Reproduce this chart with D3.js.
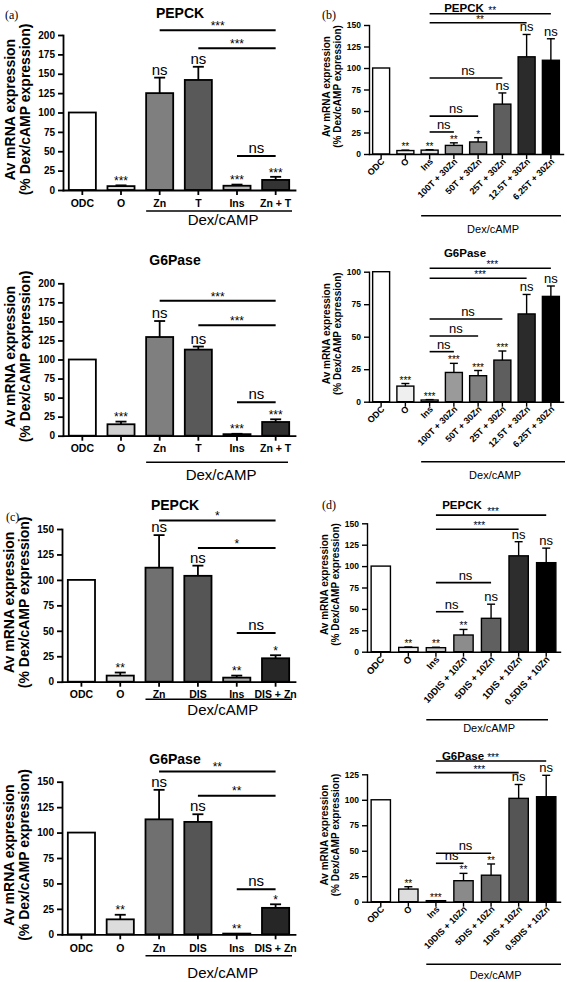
<!DOCTYPE html>
<html><head><meta charset="utf-8">
<script src="https://cdn.jsdelivr.net/npm/d3@7"></script>
<style>body{margin:0;background:#fff}svg{display:block}</style>
</head><body>
<svg id="c" width="567" height="982"></svg>
<script>
// ================= DATA =================
// Panel (a)
const catsA = ["ODC","O","Zn","T","Ins","Zn + T"];
const pepckA = [100, 5, 125, 142, 5.5, 13];
const pepckAErr = [0, 1, 20, 17, 1.5, 4];
const pepckASig = ["", "***", "ns", "ns", "***", "***"];
const pepckABr = [[2,5,"***",206],[3,5,"***",183],[4,5,"ns",44]];
const g6A = [100, 15, 129.5, 113, 2, 18];
const g6AErr = [0, 3.5, 21, 4, 0.5, 3.5];
const g6ASig = ["", "***", "ns", "ns", "***", "***"];
const g6ABr = [[2,5,"***",177],[3,5,"***",145],[4,5,"ns",44]];
// Panel (b)
const catsB = ["ODC","O","Ins","100T + 30Zn","50T + 30Zn","25T + 30Zn","12.5T + 30Zn","6.25T + 30Zn"];
const pepckB = [100, 4, 4.5, 10, 14, 58, 113, 109];
const pepckBErr = [0, 0.5, 0.5, 3, 5, 13, 26, 25];
const pepckBSig = ["", "**", "**", "**", "*", "ns", "ns", "ns"];
const pepckBBr = [[2,7,"**",163],[2,6,"**",152.7],[2,5,"ns",88.4],[2,4,"ns",44],[2,3,"ns",25.6]];
const g6B = [100, 12, 1.3, 22.5, 20, 32, 67.5, 81];
const g6BErr = [0, 2, 0.3, 7, 4, 7, 15, 8];
const g6BSig = ["", "***", "***", "***", "***", "***", "ns", "ns"];
const g6BBr = [[2,7,"***",102.6],[2,6,"***",95],[2,5,"ns",63.6],[2,4,"ns",50.5],[2,3,"ns",38.5]];
// Panel (c)
const catsC = ["ODC","O","Zn","DIS","Ins","DIS + Zn"];
const pepckC = [100, 6, 112, 104, 4, 23];
const pepckCErr = [0, 3, 32, 10, 2, 3];
const pepckCSig = ["", "**", "ns", "ns", "**", "*"];
const pepckCBr = [[2,5,"*",158.4],[3,5,"*",131.3],[4,5,"ns",47.8]];
const g6C = [100, 14.7, 113, 110.5, 0.7, 26];
const g6CErr = [0, 4.5, 29, 7.5, 0, 3.5];
const g6CSig = ["", "**", "ns", "ns", "**", "*"];
const g6CBr = [[2,5,"**",160],[3,5,"**",136.3],[4,5,"ns",44.2]];
// Panel (d)
const catsD = ["ODC","O","Ins","10DIS + 10Zn","5DIS + 10Zn","1DIS + 10Zn","0.5DIS + 10Zn"];
const pepckD = [100, 5, 4.7, 19.5, 39, 112, 104];
const pepckDErr = [0, 0.5, 0.5, 6.5, 16.5, 16.5, 17];
const pepckDSig = ["", "**", "**", "**", "ns", "ns", "ns"];
const pepckDBr = [[2,6,"***",159.6],[2,5,"***",143],[2,4,"ns",80.7],[2,3,"ns",46.7]];
const g6D = [100, 12.4, 1, 20.6, 26, 101.4, 103];
const g6DErr = [0, 2.3, 0, 7.2, 11, 13.6, 21];
const g6DSig = ["", "**", "***", "**", "**", "ns", "ns"];
const g6DBr = [[2,6,"***",138],[2,5,"***",126.6],[2,4,"ns",47.5],[2,3,"ns",37.7]];
// Tick labels
const ticks200 = [0,25,50,75,100,125,150,175,200];
const ticks150 = [0,25,50,75,100,125,150];
const ticks125 = [0,25,50,75,100,125];
const ticks100 = [0,25,50,75,100];

// ================= STYLE =================
const fillsA1 = ["#ffffff","#dcdcdc","#7f7f7f","#595959","#b5b5b5","#333333"];
const fillsA2 = ["#ffffff","#cfcfcf","#7f7f7f","#595959","#b5b5b5","#2e2e2e"];
const fillsB = ["#ffffff","#efefef","#e2e2e2","#9a9a9a","#808080","#5e5e5e","#2b2b2b","#000000"];
const fillsC = ["#ffffff","#dcdcdc","#707070","#555555","#aaaaaa","#262626"];
const fillsD1 = ["#ffffff","#eeeeee","#cccccc","#8c8c8c","#606060","#2d2d2d","#000000"];
const fillsD2 = ["#ffffff","#dddddd","#cccccc","#8a8a8a","#666666","#555555","#000000"];
const SANS = "'Liberation Sans', Arial, sans-serif";
const SERIF = "'Liberation Serif', 'Times New Roman', serif";

const svg = d3.select("#c");

function panel(o){
  const g = svg.append("g");
  const big = o.size === "L";
  const sw = big ? 1.8 : 1.4;
  const y = d3.scaleLinear().domain([0, o.ymax]).range([o.y0, o.y1]);
  const x = d3.scaleBand().domain(o.cats).range([o.x0, o.x1]).paddingInner(0.3).paddingOuter(0.15);
  const cx = i => x(o.cats[i]) + x.bandwidth()/2;
  const tickFs = big ? 10 : 8.5, labFs = o.labFs || (big ? 10.5 : 9), nsFs = big ? 15 : 13, astFs = big ? 12 : 10;

  // bars
  g.selectAll("rect.bar").data(o.vals).join("rect").attr("class","bar")
    .attr("x", (d,i) => x(o.cats[i])).attr("width", x.bandwidth())
    .attr("y", d => y(d)).attr("height", d => o.y0 - y(d))
    .attr("fill", (d,i) => o.fills[i]).attr("stroke", "#000").attr("stroke-width", sw);
  // error bars (upper)
  const cap = big ? 11 : 8;
  o.vals.forEach((v,i) => {
    const e = o.errs[i]; if (!e) return;
    g.append("line").attr("x1", cx(i)).attr("x2", cx(i)).attr("y1", y(v)).attr("y2", y(v+e))
      .attr("stroke","#000").attr("stroke-width", sw);
    g.append("line").attr("x1", cx(i)-cap/2).attr("x2", cx(i)+cap/2).attr("y1", y(v+e)).attr("y2", y(v+e))
      .attr("stroke","#000").attr("stroke-width", sw);
  });
  function sigText(label, xc, top){
    const isAst = label.indexOf("*") >= 0;
    const fs = isAst ? astFs : nsFs;
    const by = isAst ? top - (big ? 4.5 : 3.5) + 0.35*fs : top - 3;
    g.append("text").attr("x", xc).attr("y", by).attr("text-anchor","middle")
      .attr("font-family", SANS).attr("font-size", fs).text(label);
  }
  // significance above bars
  o.sig.forEach((s,i) => { if (s) sigText(s, cx(i), y(o.vals[i] + o.errs[i])); });
  // brackets
  o.br.forEach(b => {
    const ly = y(b[3]);
    g.append("line").attr("x1", cx(b[0])).attr("x2", cx(b[1])).attr("y1", ly).attr("y2", ly)
      .attr("stroke","#000").attr("stroke-width", big ? 2 : 1.6);
    sigText(b[2], (cx(b[0]) + cx(b[1]))/2 + (big ? 0 : 2), ly);
  });

  // y axis
  const ya = d3.axisLeft(y).tickValues(o.ticks).tickSize(5).tickSizeOuter(0).tickPadding(3);
  const yg = g.append("g").attr("transform", `translate(${o.x0},0)`).call(ya);
  // x axis
  const xa = d3.axisBottom(x).tickSize(5).tickSizeOuter(0).tickPadding(3);
  const xg = g.append("g").attr("transform", `translate(0,${o.y0})`).call(xa);
  [yg, xg].forEach(a => {
    a.select(".domain").attr("stroke-width", sw).attr("stroke-linecap","square");
    a.selectAll(".tick line").attr("stroke-width", sw);
    a.selectAll("text").attr("font-family", SANS).attr("font-weight","bold").attr("fill","#000");
  });
  yg.selectAll("text").attr("font-size", tickFs);
  if (o.rotate) {
    xg.selectAll("text").attr("font-size", labFs).attr("text-anchor","end")
      .attr("dy", null).attr("y", null)
      .attr("transform", `translate(4,${o.labOff}) rotate(${o.rotate})`);
  } else {
    xg.selectAll("text").attr("font-size", labFs).attr("dy", null).attr("y", o.labOff);
  }
  // Dex/cAMP grouping
  const lx0 = x(o.cats[o.dexFrom]);
  g.append("line").attr("x1", lx0).attr("x2", o.dexEnd).attr("y1", o.y0 + o.dexLine).attr("y2", o.y0 + o.dexLine)
    .attr("stroke","#000").attr("stroke-width", big ? 1.6 : 1.4);
  g.append("text").attr("x", (lx0 + o.dexEnd)/2 + (big ? 4 : 2)).attr("y", o.y0 + o.dexText)
    .attr("text-anchor","middle").attr("font-family", SANS).attr("font-size", big ? 15 : 11).text("Dex/cAMP");

  // y title
  const tfs = big ? 14 : 10;
  const ym = (o.y0 + o.y1)/2 - 3;
  const tx1 = o.x0 - (big ? 48 : 39), tx2 = o.x0 - (big ? 33 : 28);
  g.append("text").attr("transform", `translate(${tx1},${ym}) rotate(-90)`).attr("text-anchor","middle")
    .attr("font-family", SANS).attr("font-weight","bold").attr("font-size", tfs).text("Av mRNA expression");
  g.append("text").attr("transform", `translate(${tx2},${ym}) rotate(-90)`).attr("text-anchor","middle")
    .attr("font-family", SANS).attr("font-weight","bold").attr("font-size", tfs).text("(% Dex/cAMP expression)");
  // title
  g.append("text").attr("x", o.titleX).attr("y", o.titleY).attr("text-anchor","middle")
    .attr("font-family", SANS).attr("font-weight","bold").attr("font-size", big ? 14 : 11.5).text(o.title);
  if (o.letter) {
    g.append("text").attr("x", o.letter[1]).attr("y", o.letter[2]).attr("font-family", SERIF)
      .attr("font-size", 12).text(o.letter[0]);
  }
}

panel({size:"L", cats:catsA, vals:pepckA, errs:pepckAErr, sig:pepckASig, br:pepckABr, fills:fillsA1,
  ymax:200, ticks:ticks200, y0:190, y1:35, x0:63, x1:295, labOff:17, dexFrom:2, dexEnd:292, dexLine:21, dexText:35,
  title:"PEPCK", titleX:180, titleY:18, letter:["(a)",5,19]});
panel({size:"L", cats:catsA, vals:g6A, errs:g6AErr, sig:g6ASig, br:g6ABr, fills:fillsA2,
  ymax:200, ticks:ticks200, y0:435.7, y1:283.3, x0:63, x1:295, labOff:16.6, dexFrom:2, dexEnd:288, dexLine:26.6, dexText:44.3,
  title:"G6Pase", titleX:175, titleY:265});
panel({size:"S", cats:catsB, vals:pepckB, errs:pepckBErr, sig:pepckBSig, br:pepckBBr, fills:fillsB,
  ymax:150, ticks:ticks150, y0:154, y1:25, x0:369, x1:563, labOff:8, rotate:-45, dexFrom:2, dexEnd:561, dexLine:61.7, dexText:78.8,
  title:"PEPCK", titleX:464, titleY:11.5, letter:["(b)",322,19]});
panel({size:"S", cats:catsB, vals:g6B, errs:g6BErr, sig:g6BSig, br:g6BBr, fills:fillsB,
  ymax:100, ticks:ticks100, y0:401.7, y1:271.7, x0:369, x1:563, labOff:8, rotate:-45, dexFrom:2, dexEnd:565, dexLine:60, dexText:76.8,
  title:"G6Pase", titleX:465, titleY:257});
panel({size:"L", cats:catsC, vals:pepckC, errs:pepckCErr, sig:pepckCSig, br:pepckCBr, fills:fillsC,
  ymax:150, ticks:ticks150, y0:681.7, y1:529, x0:62, x1:295, labOff:16.3, dexFrom:2, dexEnd:292, dexLine:17.6, dexText:33.3,
  title:"PEPCK", titleX:175, titleY:510, letter:["(c)",6,521]});
panel({size:"L", cats:catsC, vals:g6C, errs:g6CErr, sig:g6CSig, br:g6CBr, fills:fillsC,
  ymax:150, ticks:ticks150, y0:934.3, y1:781.7, x0:62, x1:295, labOff:18, dexFrom:2, dexEnd:292, dexLine:21.4, dexText:44,
  title:"G6Pase", titleX:175, titleY:764});
panel({size:"S", cats:catsD, vals:pepckD, errs:pepckDErr, sig:pepckDSig, br:pepckDBr, fills:fillsD1,
  ymax:150, ticks:ticks150, y0:651.7, y1:523.3, x0:367, x1:560, labOff:8, rotate:-48, labFs:9.5, dexFrom:2, dexEnd:548, dexLine:68, dexText:80,
  title:"PEPCK", titleX:462, titleY:509, letter:["(d)",322,509]});
panel({size:"S", cats:catsD, vals:g6D, errs:g6DErr, sig:g6DSig, br:g6DBr, fills:fillsD2,
  ymax:125, ticks:ticks125, y0:901.7, y1:774.3, x0:367, x1:560, labOff:8, rotate:-45, dexFrom:2, dexEnd:561, dexLine:62.6, dexText:77.5,
  title:"G6Pase", titleX:463, titleY:760});
</script>
</body></html>
